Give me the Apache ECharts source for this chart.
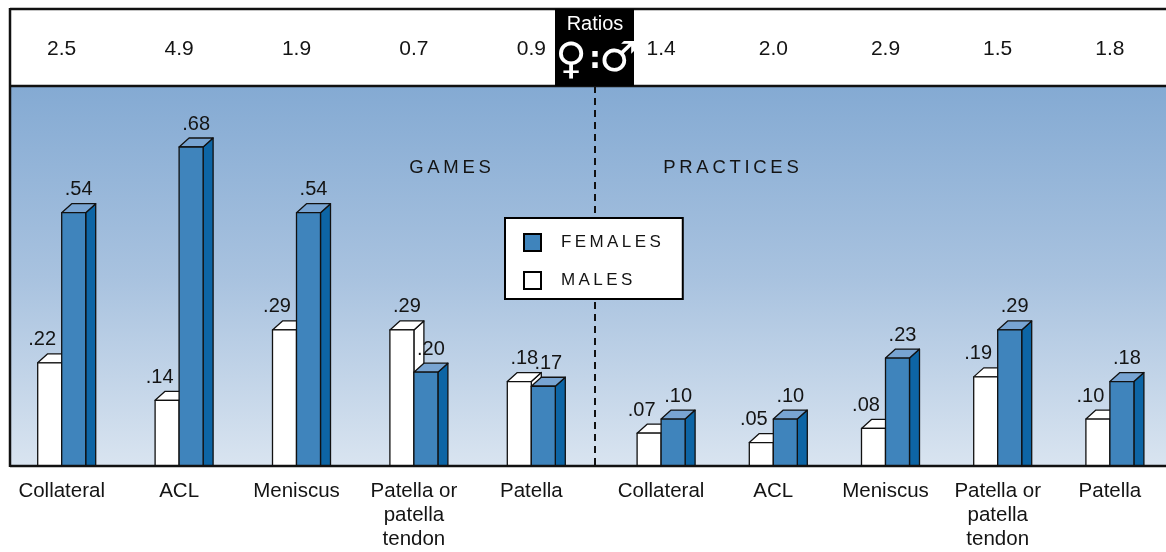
<!DOCTYPE html>
<html>
<head>
<meta charset="utf-8">
<script src="https://cdn.jsdelivr.net/npm/echarts@6/dist/echarts.min.js"></script>
<style>html,body{margin:0;padding:0;background:#fff;}#chart{width:1166px;height:552px;}</style>
</head>
<body>
<div id="chart"></div>
<script>
// ---- data ----
var gameCategories = ['Collateral', 'ACL', 'Meniscus', 'Patella or\npatella\ntendon', 'Patella'];
var practiceCategories = ['Collateral', 'ACL', 'Meniscus', 'Patella or\npatella\ntendon', 'Patella'];
var gameRatios = ['2.5', '4.9', '1.9', '0.7', '0.9'];
var practiceRatios = ['1.4', '2.0', '2.9', '1.5', '1.8'];
var gameMales = [0.22, 0.14, 0.29, 0.29, 0.18];
var gameFemales = [0.54, 0.68, 0.54, 0.20, 0.17];
var practiceMales = [0.07, 0.05, 0.08, 0.19, 0.10];
var practiceFemales = [0.10, 0.10, 0.23, 0.29, 0.18];

var FONT = '"Liberation Sans", Arial, sans-serif';
var TXT = '#141414';
var F_FRONT = '#3f84bc', F_SIDE = '#0d65a5', F_TOP = '#78a4d2';

function spaced(s) { return s.split('').join('\u2009'); }
function fmt(v) { return v.toFixed(2).replace(/^0/, ''); }
// each point: [category index, value, value of the partner bar]
function toData(arr, other) { return arr.map(function (v, i) { return [i, v, other[i]]; }); }

function makeRender(kind) {
  return function (params, api) {
    var idx = api.value(0), val = api.value(1), partner = api.value(2);
    var b = api.coord([idx, 0]);
    var t = api.coord([idx, val]);
    var w = 24, dx = 10, dy = 9;
    var x0 = kind === 'm' ? b[0] - 24 : b[0];
    var yb = b[1], yt = t[1];
    var front = kind === 'm' ? '#ffffff' : F_FRONT;
    var side = kind === 'm' ? '#ffffff' : F_SIDE;
    var top = kind === 'm' ? '#ffffff' : F_TOP;
    var base = kind === 'm' ? 0 : 10;
    // male label moves left when the female bar beside it is taller
    var lx = (kind === 'm' && val < partner) ? x0 + w / 2 - 7.5 : x0 + w / 2 + 5;
    var st = { stroke: '#111', lineWidth: 1.3, lineJoin: 'round' };
    return {
      type: 'group',
      children: [
        { type: 'polygon', z2: base + 1, shape: { points: [[x0 + w, yb], [x0 + w, yt], [x0 + w + dx, yt - dy], [x0 + w + dx, yb]] },
          style: Object.assign({ fill: side }, st) },
        { type: 'polygon', z2: base + 2, shape: { points: [[x0, yt], [x0 + dx, yt - dy], [x0 + w + dx, yt - dy], [x0 + w, yt]] },
          style: Object.assign({ fill: top }, st) },
        { type: 'rect', z2: base + 3, shape: { x: x0, y: yt, width: w, height: yb - yt },
          style: Object.assign({ fill: front }, st) },
        { type: 'text', z2: 50, x: lx, y: yt - dy - 4,
          style: { text: fmt(val), fill: TXT, font: '20px ' + FONT, align: 'center', verticalAlign: 'bottom' } }
      ]
    };
  };
}

var chart = echarts.init(document.getElementById('chart'), null, { renderer: 'canvas' });

var catAxis = function (gi, data) {
  return {
    type: 'category', gridIndex: gi, data: data, position: 'bottom',
    axisLine: { show: false }, axisTick: { show: false }, splitLine: { show: false },
    axisLabel: { interval: 0, fontSize: 20.5, lineHeight: 24, margin: 13, color: TXT, fontFamily: FONT }
  };
};
var ratioAxis = function (gi, data) {
  return {
    type: 'category', gridIndex: gi, data: data, position: 'top',
    axisLine: { show: false }, axisTick: { show: false }, splitLine: { show: false },
    axisLabel: { interval: 0, fontSize: 21, margin: 37, verticalAlign: 'middle', color: TXT, fontFamily: FONT }
  };
};
var valAxis = function (gi) {
  return { type: 'value', gridIndex: gi, min: 0, max: 0.81, show: false, splitLine: { show: false } };
};

var option = {
  backgroundColor: '#ffffff',
  animation: false,
  grid: [
    { left: 3, width: 587, top: 86, bottom: 86 },
    { left: 605, width: 581, top: 86, bottom: 86 }
  ],
  xAxis: [catAxis(0, gameCategories), catAxis(1, practiceCategories), ratioAxis(0, gameRatios), ratioAxis(1, practiceRatios)],
  yAxis: [valAxis(0), valAxis(1)],
  legend: {
    left: 505, top: 218, orient: 'vertical', backgroundColor: '#fff', borderColor: '#000', borderWidth: 2,
    padding: [15, 22, 9, 18], itemWidth: 17, itemHeight: 17, itemGap: 19, icon: 'rect', selectedMode: false,
    data: [
      { name: 'FEMALES', itemStyle: { color: F_FRONT, borderColor: '#000', borderWidth: 2 } },
      { name: 'MALES', itemStyle: { color: '#fff', borderColor: '#000', borderWidth: 2 } }
    ],
    formatter: function (n) { return spaced(n); },
    textStyle: { fontSize: 17, color: TXT, fontFamily: FONT, padding: [0, 0, 0, 15] }
  },
  series: [
    { name: 'MALES', type: 'custom', xAxisIndex: 0, yAxisIndex: 0, renderItem: makeRender('m'), data: toData(gameMales, gameFemales),
      itemStyle: { color: '#fff' }, encode: { x: 0, y: 1 } },
    { name: 'FEMALES', type: 'custom', xAxisIndex: 0, yAxisIndex: 0, renderItem: makeRender('f'), data: toData(gameFemales, gameMales),
      itemStyle: { color: F_FRONT }, encode: { x: 0, y: 1 } },
    { name: 'MALES', type: 'custom', xAxisIndex: 1, yAxisIndex: 1, renderItem: makeRender('m'), data: toData(practiceMales, practiceFemales),
      itemStyle: { color: '#fff' }, encode: { x: 0, y: 1 } },
    { name: 'FEMALES', type: 'custom', xAxisIndex: 1, yAxisIndex: 1, renderItem: makeRender('f'), data: toData(practiceFemales, practiceMales),
      itemStyle: { color: F_FRONT }, encode: { x: 0, y: 1 } }
  ],
  graphic: [
    { type: 'rect', z: -10, shape: { x: 10, y: 86, width: 1170, height: 380 },
      style: { fill: new echarts.graphic.LinearGradient(0, 0, 0, 1, [
        { offset: 0, color: '#84aad3' }, { offset: 0.5, color: '#a8c2df' }, { offset: 1, color: '#d9e4f0' }]) } },
    { type: 'line', z: 1, shape: { x1: 595, y1: 86, x2: 595, y2: 466 },
      style: { stroke: '#111', lineWidth: 2, lineDash: [7, 5] } },
    { type: 'line', z: 10, shape: { x1: 10, y1: 466, x2: 1170, y2: 466 }, style: { stroke: '#111', lineWidth: 2.5 } },
    { type: 'line', z: 10, shape: { x1: 10, y1: 9, x2: 1170, y2: 9 }, style: { stroke: '#111', lineWidth: 2.5 } },
    { type: 'line', z: 10, shape: { x1: 10, y1: 86, x2: 1170, y2: 86 }, style: { stroke: '#111', lineWidth: 2.5 } },
    { type: 'line', z: 10, shape: { x1: 10, y1: 8, x2: 10, y2: 467 }, style: { stroke: '#111', lineWidth: 2.5 } },
    { type: 'rect', z: 11, shape: { x: 555, y: 9, width: 79, height: 77 }, style: { fill: '#000' } },
    { type: 'text', z: 12, x: 595, y: 24, style: { text: 'Ratios', fill: '#fff', font: '20px ' + FONT, align: 'center', verticalAlign: 'middle' } },
    { type: 'text', z: 12, x: 571, y: 62, style: { text: '\u2640', fill: '#fff', font: '43px "DejaVu Sans"', align: 'center', verticalAlign: 'middle' } },
    { type: 'text', z: 12, x: 595, y: 60, style: { text: ':', fill: '#fff', font: 'bold 30px "DejaVu Sans"', align: 'center', verticalAlign: 'middle' } },
    { type: 'text', z: 12, x: 618, y: 60, style: { text: '\u2642', fill: '#fff', font: '42px "DejaVu Sans"', align: 'center', verticalAlign: 'middle' } },
    { type: 'text', z: 3, x: 450, y: 168, style: { text: spaced('GAMES'), fill: TXT, font: '18.5px ' + FONT, align: 'center', verticalAlign: 'middle' } },
    { type: 'text', z: 3, x: 731, y: 168, style: { text: spaced('PRACTICES'), fill: TXT, font: '18.5px ' + FONT, align: 'center', verticalAlign: 'middle' } }
  ]
};
chart.setOption(option);
</script>
</body>
</html>
